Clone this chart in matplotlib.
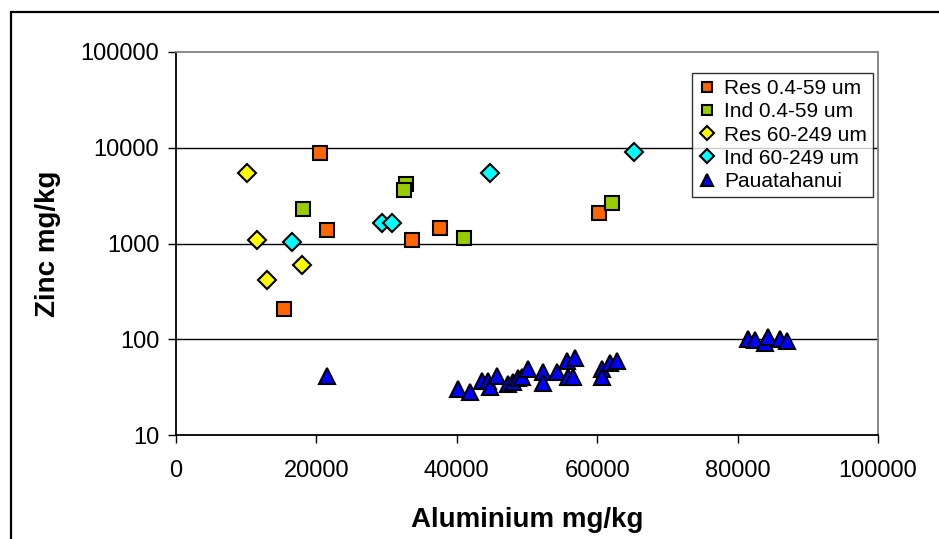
import matplotlib
matplotlib.use("Agg")
import matplotlib.pyplot as plt
from matplotlib.patches import Rectangle

plt.rcParams['font.family'] = ['Liberation Sans', 'DejaVu Sans']

# Data (Aluminium mg/kg, Zinc mg/kg)
res_fine_al = [20500, 21500, 15400, 33600, 37600, 60300]
res_fine_zn = [8800, 1380, 205, 1100, 1450, 2100]

ind_fine_al = [18100, 32800, 32500, 41000, 62100]
ind_fine_zn = [2300, 4200, 3600, 1150, 2650]

res_coarse_al = [10100, 11500, 13000, 17900]
res_coarse_zn = [5450, 1080, 420, 590]

ind_coarse_al = [16500, 29300, 30800, 44700, 65200]
ind_coarse_zn = [1030, 1640, 1640, 5450, 9000]

pau_al = [21500, 40200, 41900, 43600, 44400, 44700, 45700, 47300, 48000, 48700,
          49300, 50100, 52300, 52300, 54300, 55700, 56800, 55800, 56600, 60700,
          60700, 61800, 62800, 81500, 82500, 83900, 84300, 86000, 87000]
pau_zn = [41, 30, 28, 37, 37, 32, 41, 34, 36, 39,
          40, 49, 45, 35, 45, 59, 64, 40, 40, 49,
          40, 56, 59, 101, 98, 92, 106, 101, 96]

x_ticks = [0, 20000, 40000, 60000, 80000, 100000]
y_ticks = [10, 100, 1000, 10000, 100000]

W, H = 939, 539
fig = plt.figure(figsize=(W / 100, H / 100), dpi=100)
ax = fig.add_axes([176 / W, 1 - 435 / H, (878 - 176) / W, (435 - 52) / H])

# outer chart border
fig.patches.append(Rectangle((11 / W, -0.1), 1.2, 1 - 12 / H + 0.1, transform=fig.transFigure,
                             fill=False, edgecolor='black', linewidth=1.6, zorder=0))

ax.set_yscale('log')
ax.set_xlim(0, 100000)
ax.set_ylim(10, 100000)

for v in [100, 1000, 10000]:
    ax.axhline(v, color='black', linewidth=1.0, zorder=1)

mk = dict(linestyle='none', markeredgecolor='black', markeredgewidth=1.5, zorder=3)
ax.plot(res_fine_al, res_fine_zn, marker='s', markersize=10.5, markerfacecolor='#FF6600',
        label='Res 0.4-59 um', **mk)
ax.plot(ind_fine_al, ind_fine_zn, marker='s', markersize=10.5, markerfacecolor='#99CC00',
        label='Ind 0.4-59 um', **mk)
ax.plot(res_coarse_al, res_coarse_zn, marker='D', markersize=9.5, markerfacecolor='#FFFF00',
        label='Res 60-249 um', **mk)
ax.plot(ind_coarse_al, ind_coarse_zn, marker='D', markersize=9.5, markerfacecolor='#00FFFF',
        label='Ind 60-249 um', **mk)
ax.plot(pau_al, pau_zn, marker='^', markersize=11.5, markerfacecolor='#0000FF',
        label='Pauatahanui', **mk)

ax.set_xticks(x_ticks)
ax.set_xticklabels([str(v) for v in x_ticks])
ax.set_yticks(y_ticks)
ax.set_yticklabels([str(v) for v in y_ticks])
ax.minorticks_off()
ax.tick_params(axis='both', direction='out', length=6, width=1, labelsize=17, colors='black')
ax.tick_params(axis='x', pad=12)
ax.tick_params(axis='y', pad=6)

ax.spines['left'].set_color('black')
ax.spines['bottom'].set_color('black')
ax.spines['top'].set_color('#808080')
ax.spines['right'].set_color('#808080')
for s in ax.spines.values():
    s.set_linewidth(1.3)

ax.set_xlabel('Aluminium mg/kg', fontsize=20, fontweight='bold', labelpad=18)
ax.set_ylabel('Zinc mg/kg', fontsize=20, fontweight='bold', labelpad=14)

leg = ax.legend(loc='upper left', bbox_to_anchor=((692 - 176) / 702, (435 - 73) / 383),
                fontsize=15, frameon=True, fancybox=False, edgecolor='black',
                borderpad=0.3, labelspacing=0.2, handlelength=0.8, handletextpad=0.45,
                borderaxespad=0, numpoints=1, markerscale=0.75)
leg.get_frame().set_linewidth(1.0)

fig.savefig('out.png', dpi=100, facecolor='white')
